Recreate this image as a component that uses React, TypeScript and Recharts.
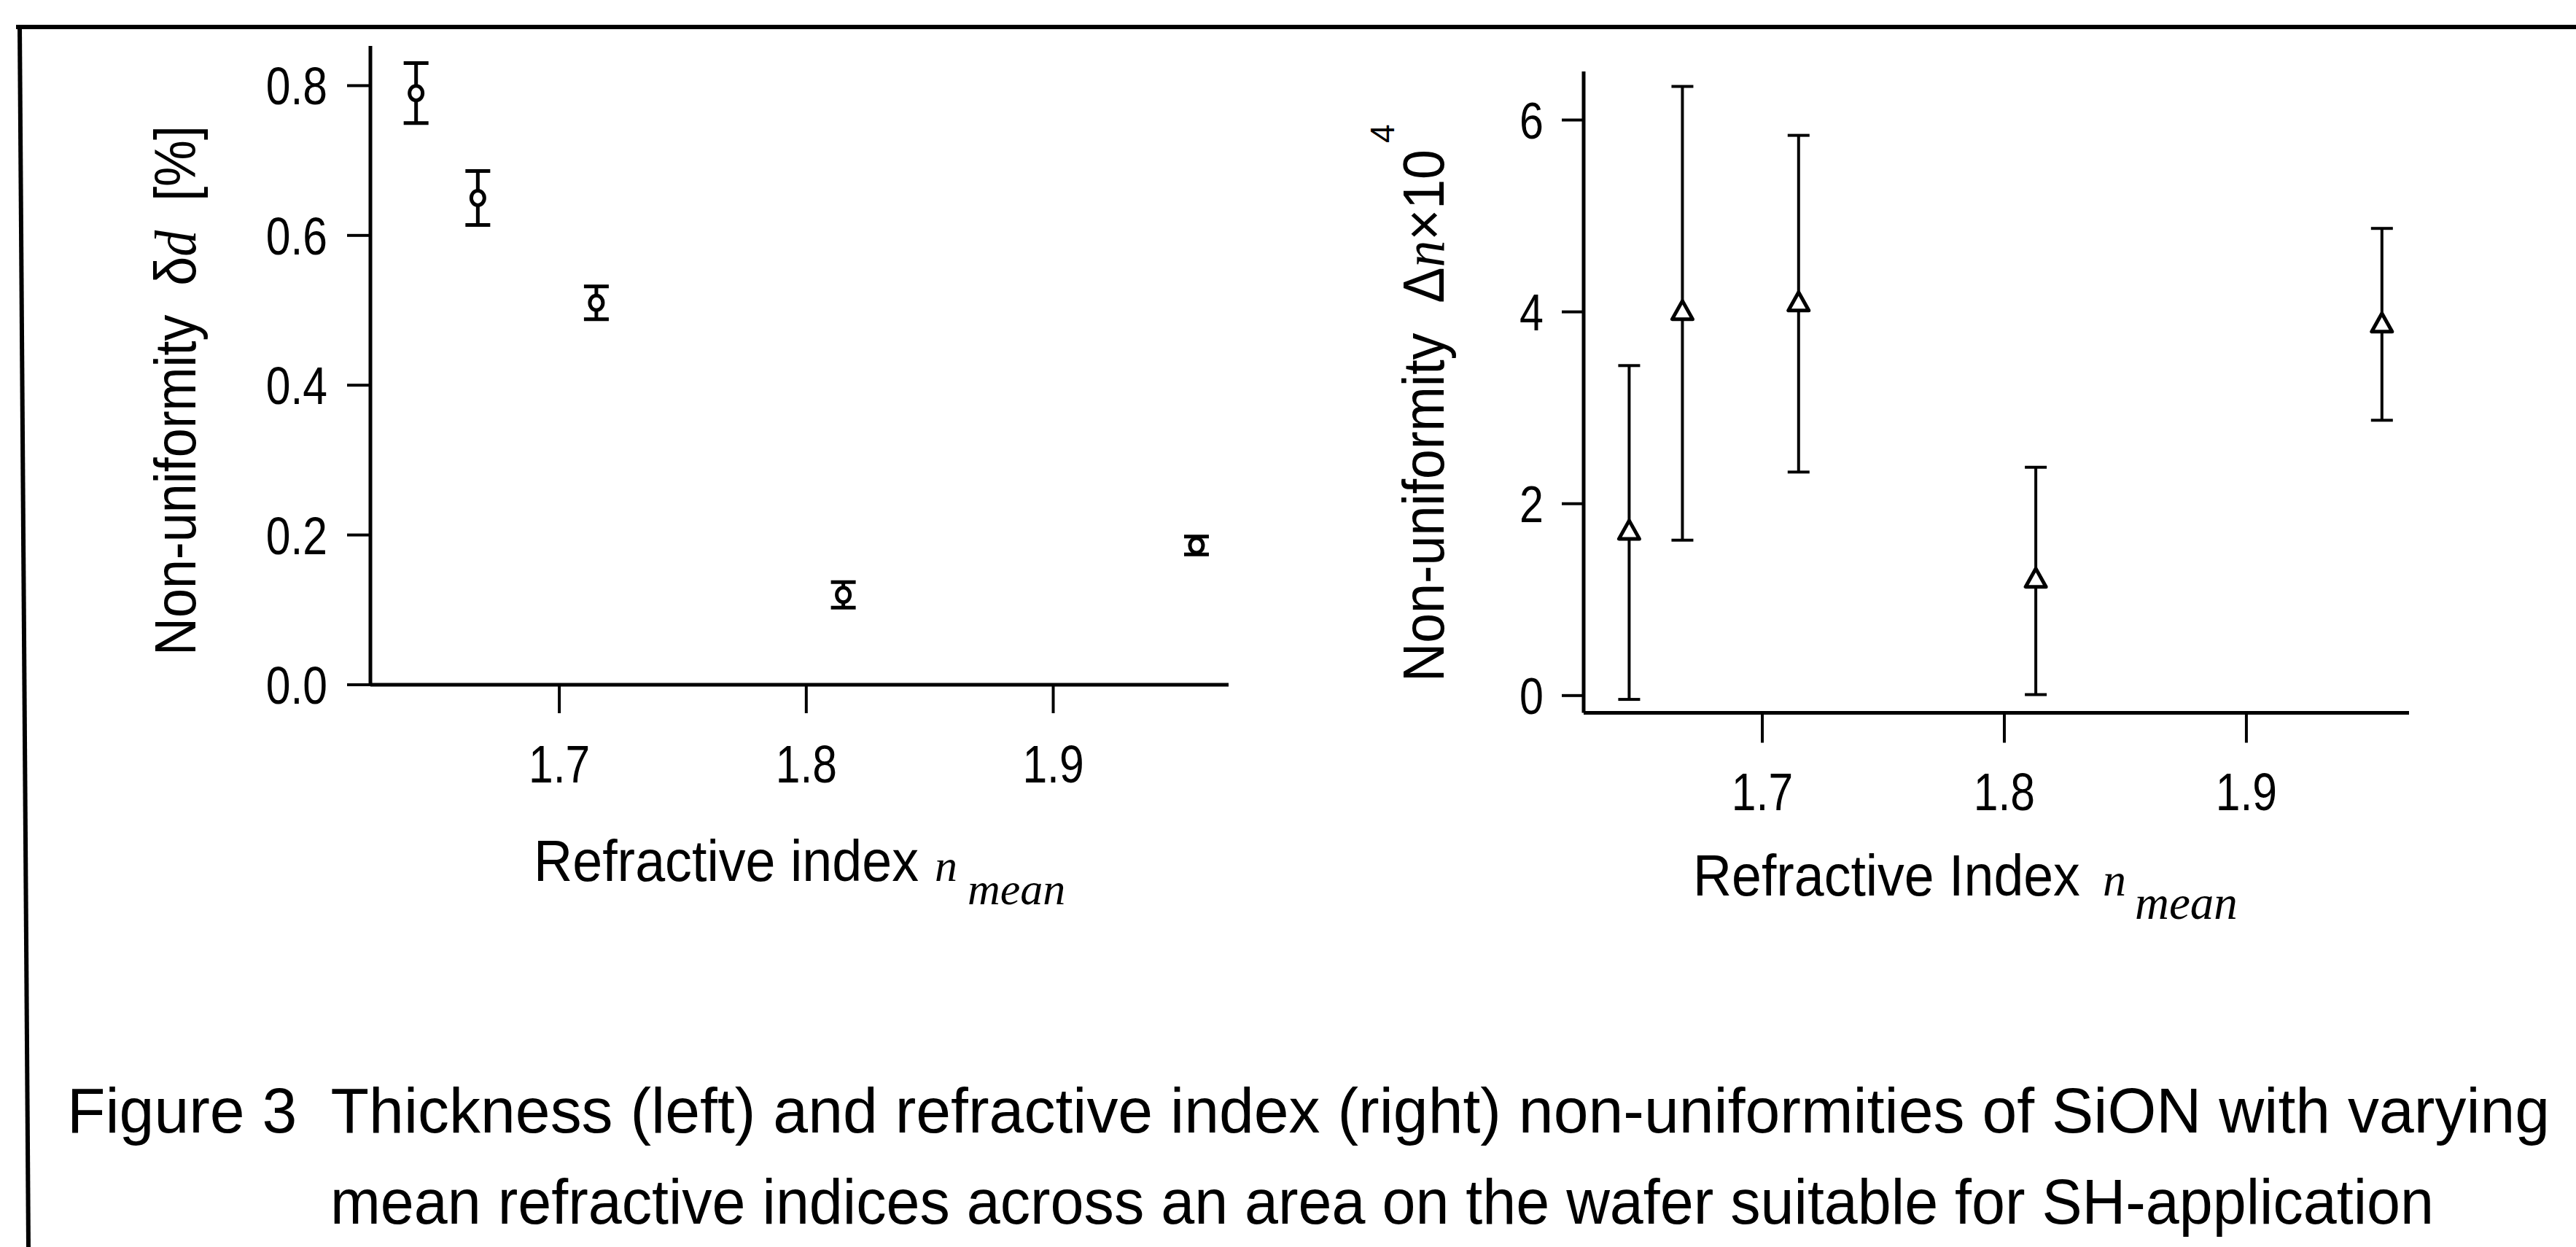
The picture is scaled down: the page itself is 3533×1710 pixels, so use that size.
import React from 'react';
import { ScatterChart, Scatter, XAxis, YAxis, ErrorBar } from 'recharts';

// left panel: thickness non-uniformity
const leftN = [1.642, 1.667, 1.715, 1.815, 1.958];
const thicknessNonUni = [0.79, 0.65, 0.51, 0.12, 0.186];
const thicknessErr = [0.04, 0.036, 0.022, 0.017, 0.012];
const leftXTicks = [1.7, 1.8, 1.9];
const leftYTicks = [0, 0.2, 0.4, 0.6, 0.8];

// right panel: refractive index non-uniformity (x10^4)
const rightN = [1.645, 1.667, 1.715, 1.813, 1.956];
const indexNonUni = [1.71, 4.0, 4.09, 1.21, 3.87];
const indexErrLow = [1.75, 2.38, 1.76, 1.2, 1.0];
const indexErrHigh = [1.73, 2.35, 1.75, 1.17, 1.0];
const rightXTicks = [1.7, 1.8, 1.9];
const rightYTicks = [0, 2, 4, 6];

const leftData = leftN.map((x, i) => ({ x, y: thicknessNonUni[i], err: thicknessErr[i] }));
const rightData = rightN.map((x, i) => ({ x, y: indexNonUni[i], err: [indexErrLow[i], indexErrHigh[i]] }));

const SANS = "'Liberation Sans Narrow', 'Liberation Sans', Arial, sans-serif";
const CAPTION = "'Liberation Sans', Arial, sans-serif";
const SERIF = "'Liberation Serif', 'Times New Roman', serif";

const numWidth = (s: string, fs: number) =>
  s.split('').reduce((w, c) => w + (c === '.' ? 0.23 : 0.47) * fs, 0);

const makeTick = (anchor: 'end' | 'middle', fs: number, digits: number, dy: number) => (props: any) => {
  const { x, y, payload } = props;
  const label = Number(payload.value).toFixed(digits);
  return (
    <text x={x} y={y} dy={dy} textAnchor={anchor} fontSize={fs} fontFamily={SANS} fill="#000"
      textLength={numWidth(label, fs)} lengthAdjust="spacingAndGlyphs">
      {label}
    </text>
  );
};

const Circle = (props: any) => {
  const { cx, cy } = props;
  return <ellipse cx={cx} cy={cy} rx={9} ry={10} fill="#fff" stroke="#000" strokeWidth={5} />;
};

const Triangle = (props: any) => {
  const { cx, cy } = props;
  return (
    <polygon points={`${cx},${cy - 15} ${cx - 14},${cy + 10} ${cx + 14},${cy + 10}`}
      fill="#fff" stroke="#000" strokeWidth={5} strokeLinejoin="round" />
  );
};

const axisStroke = { stroke: '#000', strokeWidth: 5 };
const tickStroke = { stroke: '#000', strokeWidth: 4 };

const App = () => {
  return (
    <div style={{ position: 'absolute', left: 0, top: 0, width: 3533, height: 1710, background: '#fff', overflow: 'hidden' }}>
      <div style={{ position: 'absolute', left: 0, top: 0 }}>
        <ScatterChart width={1800} height={1200} margin={{ top: 63, right: 115, bottom: 111, left: 308 }}>
          <XAxis type="number" dataKey="x" domain={[1.6235, 1.971]} ticks={leftXTicks} allowDataOverflow
            height={150} tickSize={39} tickMargin={44} axisLine={axisStroke} tickLine={tickStroke}
            tick={makeTick('middle', 72, 1, 51)} />
          <YAxis type="number" dataKey="y" domain={[0, 0.853]} ticks={leftYTicks} allowDataOverflow
            width={200} tickSize={32} tickMargin={27} axisLine={axisStroke} tickLine={tickStroke}
            tick={makeTick('end', 72, 1, 26)} />
          <Scatter data={leftData} isAnimationActive={false} shape={Circle}>
            <ErrorBar dataKey="err" direction="y" width={17} strokeWidth={5} stroke="#000" isAnimationActive={false} />
          </Scatter>
        </ScatterChart>
      </div>
      <div style={{ position: 'absolute', left: 1800, top: 0 }}>
        <ScatterChart width={1733} height={1200} margin={{ top: 98, right: 229, bottom: 122.5, left: 172 }}>
          <XAxis type="number" dataKey="x" domain={[1.6262, 1.9672]} ticks={rightXTicks} allowDataOverflow
            height={100} tickSize={41} tickMargin={38} axisLine={axisStroke} tickLine={tickStroke}
            tick={makeTick('middle', 72, 1, 54)} />
          <YAxis type="number" dataKey="y" domain={[-0.18, 6.506]} ticks={rightYTicks} allowDataOverflow
            width={200} tickSize={30} tickMargin={25} axisLine={axisStroke} tickLine={tickStroke}
            tick={makeTick('end', 70, 0, 25)} />
          <Scatter data={rightData} isAnimationActive={false} shape={Triangle}>
            <ErrorBar dataKey="err" direction="y" width={15} strokeWidth={4} stroke="#000" isAnimationActive={false} />
          </Scatter>
        </ScatterChart>
      </div>
      <svg width={3533} height={1710} style={{ position: 'absolute', left: 0, top: 0, pointerEvents: 'none' }}>
        <line x1={22} y1={37} x2={3533} y2={37} stroke="#000" strokeWidth={6} />
        <line x1={27} y1={37} x2={39} y2={1710} stroke="#000" strokeWidth={6} />

        <text transform="translate(268,899) rotate(-90)" fontSize={80} fontFamily={CAPTION} fill="#000"
          textLength={727} lengthAdjust="spacingAndGlyphs" style={{ whiteSpace: 'pre' }}>
          Non-uniformity  δ<tspan fontFamily={SERIF} fontStyle="italic">d</tspan>  [%]
        </text>

        <text transform="translate(1980,935) rotate(-90)" fontSize={80} fontFamily={CAPTION} fill="#000"
          textLength={730} lengthAdjust="spacingAndGlyphs" style={{ whiteSpace: 'pre' }}>
          Non-uniformity  Δ<tspan fontFamily={SERIF} fontStyle="italic">n</tspan>×10
        </text>
        <text transform="translate(1912,196) rotate(-90)" fontSize={46} fontFamily={CAPTION} fill="#000">4</text>

        <text transform="translate(732,1208) scale(0.92,1)" fontSize={80} fontFamily={CAPTION} fill="#000"
          textLength={574} lengthAdjust="spacingAndGlyphs">
          Refractive index
        </text>
        <text x={1282} y={1208} fontFamily={SERIF} fontStyle="italic" fill="#000">
          <tspan fontSize={62}>n</tspan>
          <tspan dx={14} dy={32} fontSize={62}>mean</tspan>
        </text>

        <text transform="translate(2322,1228) scale(0.92,1)" fontSize={80} fontFamily={CAPTION} fill="#000"
          textLength={577} lengthAdjust="spacingAndGlyphs">
          Refractive Index
        </text>
        <text x={2884} y={1228} fontFamily={SERIF} fontStyle="italic" fill="#000">
          <tspan fontSize={64}>n</tspan>
          <tspan dx={12} dy={32} fontSize={65}>mean</tspan>
        </text>

        <text transform="translate(92,1553) scale(0.87,1)" fontSize={88} fontFamily={CAPTION} fill="#000"
          textLength={3914} lengthAdjust="spacingAndGlyphs" style={{ whiteSpace: 'pre' }}>
          Figure 3  Thickness (left) and refractive index (right) non-uniformities of SiON with varying
        </text>
        <text x={453} y={1678} fontSize={88} fontFamily={CAPTION} fill="#000" textLength={2885} lengthAdjust="spacingAndGlyphs">
          mean refractive indices across an area on the wafer suitable for SH-application
        </text>
      </svg>
    </div>
  );
};

export default App;
